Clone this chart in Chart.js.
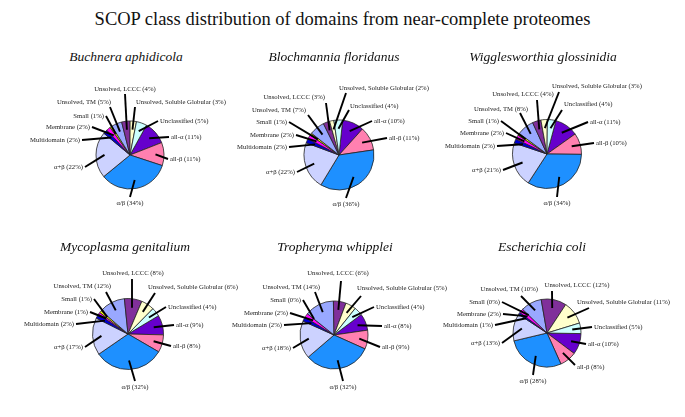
<!DOCTYPE html>
<html>
<head>
<meta charset="utf-8">
<script src="https://cdn.jsdelivr.net/npm/chart.js@4.4.1/dist/chart.umd.min.js"></script>
<style>
  body { margin: 0; background: #fff; }
  #wrap { position: relative; width: 685px; height: 417px; overflow: hidden; font-family: "Liberation Serif", "DejaVu Serif", serif; color: #111; }
  #title { position: absolute; left: 0; top: 9px; width: 685px; text-align: center; font-size: 18.5px; }
  .sp { position: absolute; width: 240px; text-align: center; font-style: italic; font-size: 13.5px; line-height: 16px; }
  canvas { position: absolute; }
</style>
</head>
<body>
<div id="wrap">
  <div id="title">SCOP class distribution of domains from near-complete proteomes</div>
</div>
<script>
// ----- Data -----
const classNames = ['all-α', 'all-β', 'α/β', 'α+β', 'Multidomain', 'Membrane', 'Small',
  'Unsolved, TM', 'Unsolved, LCCC', 'Unsolved, Soluble Globular', 'Unclassified'];
const speciesNames = ['Buchnera aphidicola', 'Blochmannia floridanus', 'Wigglesworthia glossinidia',
  'Mycoplasma genitalium', 'Tropheryma whipplei', 'Escherichia coli'];

// percentages, same order as classNames
const buchnera       = [11, 11, 34, 22, 2, 2, 1, 5, 4, 3, 5];
const blochmannia    = [10, 11, 36, 22, 2, 2, 1, 7, 3, 2, 4];
const wigglesworthia = [11, 10, 34, 21, 2, 2, 1, 8, 4, 3, 4];
const mycoplasma     = [9, 8, 32, 17, 2, 1, 1, 12, 8, 6, 4];
const tropheryma     = [8, 9, 32, 18, 2, 2, 0, 14, 6, 5, 4];
const ecoli          = [10, 8, 28, 13, 1, 2, 0, 10, 12, 11, 5];

// ----- Styles & layout -----
const sliceColors = ['#6600cc', '#ff80b0', '#1e90ff', '#ccd2ff', '#0000d0', '#ff00ff', '#ffff00',
  '#99a8ff', '#80309a', '#ffffcc', '#ccffff'];

// pie centre, radius, first-slice angle, species title position
const panels = [
  { data: buchnera,       cx: 130, cy: 155, r: 34,   rot: 29, tx: 126, ty: 49 },
  { data: blochmannia,    cx: 339, cy: 155, r: 35,   rot: 6,  tx: 334, ty: 49 },
  { data: wigglesworthia, cx: 547, cy: 154, r: 34.5, rot: 15, tx: 543, ty: 49 },
  { data: mycoplasma,     cx: 128, cy: 334, r: 35.5, rot: 59, tx: 125, ty: 239 },
  { data: tropheryma,     cx: 334, cy: 335, r: 34,   rot: 53, tx: 335, ty: 239 },
  { data: ecoli,          cx: 547, cy: 333, r: 34,   rot: 91, tx: 542, ty: 239 }
];

// label placement relative to pie centre: [textX, textY, align, lineEndX, lineEndY]
const labelLayouts = [
  [[41, -18, 'left'], [40, 4, 'left'], [0, 48, 'center'], [-47, 12, 'right'], [-50, -15, 'right'],
   [-40, -28, 'right'], [-26, -39, 'right'], [-19, -53, 'right', -20, -48], [-5, -66, 'center'],
   [6, -53, 'left', 5, -48], [30, -34, 'left']],
  [[35, -34, 'left'], [50, -17, 'left'], [7, 49, 'center'], [-44, 17, 'right'], [-52, -8, 'right'],
   [-45, -20, 'right'], [-52, -33, 'right'], [-33, -45, 'right', -31, -40], [-14, -58, 'right', -13, -52],
   [0, -67, 'left', 7, -62], [11, -49, 'left', 10, -45]],
  [[43, -32, 'left'], [49, -11, 'left'], [10, 49, 'center'], [-46, 16, 'right'], [-52, -8, 'right'],
   [-43, -21, 'right'], [-48, -33, 'right'], [-19, -45, 'right', -27, -41], [-24, -60, 'center', -10, -54],
   [5, -68, 'left', 12, -62], [17, -50, 'left', 15, -44]],
  [[48, -9, 'left'], [45, 12, 'left'], [7, 53, 'center'], [-45, 13, 'right'], [-54, -10, 'right'],
   [-40, -22, 'right'], [-36, -35, 'right'], [-17, -48, 'right', -22, -42], [5, -61, 'center', 4, -55],
   [20, -47, 'left', 27, -41], [40, -27, 'left']],
  [[50, -9, 'left'], [48, 12, 'left'], [9, 52, 'center'], [-43, 13, 'right'], [-52, -10, 'right'],
   [-46, -22, 'right'], [-33, -35, 'right'], [-14, -48, 'right', -19, -43], [4, -62, 'center', 7, -54],
   [23, -47, 'left', 27, -39], [42, -28, 'left']],
  [[41, 11, 'left'], [30, 34, 'left', 28, 32], [-14, 48, 'center'], [-47, 10, 'right'], [-54, -8, 'right'],
   [-46, -19, 'right'], [-47, -31, 'right'], [-9, -44, 'right', -26, -37], [30, -48, 'center', 5, -42],
   [30, -31, 'left', 42, -25], [47, -6, 'left']]
];

const CW = 290, CH = 200;

// leader lines + labels drawn from each arc's own geometry
const leaderLabels = {
  id: 'leaderLabels',
  afterDatasetsDraw(chart, args, opts) {
    const ctx = chart.ctx;
    const layout = opts.layout;
    const values = chart.data.datasets[0].data;
    const meta = chart.getDatasetMeta(0);
    ctx.save();
    ctx.font = '6.7px "Liberation Serif", serif';
    ctx.fillStyle = '#222';
    ctx.strokeStyle = '#000';
    ctx.lineWidth = 1.9;
    ctx.textBaseline = 'middle';
    meta.data.forEach((arc, i) => {
      const p = arc.getProps(['x', 'y', 'startAngle', 'endAngle', 'outerRadius'], true);
      const mid = (p.startAngle + p.endAngle) / 2;
      const [tx, ty, align, ex0, ey0] = layout[i];
      let ex = ex0, ey = ey0;
      if (ex === undefined) {
        if (align === 'left') { ex = tx - 2; ey = ty; }
        else if (align === 'right') { ex = tx + 2; ey = ty; }
        else { ex = tx; ey = ty > 0 ? ty - 6 : ty + 5; }
      }
      ctx.beginPath();
      ctx.moveTo(p.x + Math.cos(mid) * p.outerRadius * 0.75, p.y + Math.sin(mid) * p.outerRadius * 0.75);
      ctx.lineTo(p.x + ex, p.y + ey);
      ctx.stroke();
      ctx.textAlign = align;
      ctx.fillText(`${chart.data.labels[i]} (${values[i]}%)`, p.x + tx, p.y + ty);
    });
    ctx.restore();
  }
};

// ----- Build panels -----
const wrap = document.getElementById('wrap');
panels.forEach((pn, k) => {
  const title = document.createElement('div');
  title.className = 'sp';
  title.textContent = speciesNames[k];
  title.style.left = (pn.tx - 120) + 'px';
  title.style.top = pn.ty + 'px';
  wrap.appendChild(title);

  const cv = document.createElement('canvas');
  cv.width = CW; cv.height = CH;
  cv.style.left = (pn.cx - CW / 2) + 'px';
  cv.style.top = (pn.cy - CH / 2) + 'px';
  wrap.appendChild(cv);

  new Chart(cv.getContext('2d'), {
    type: 'pie',
    data: {
      labels: classNames,
      datasets: [{
        data: pn.data,
        backgroundColor: sliceColors,
        borderColor: '#222',
        borderWidth: 0.8,
        radius: pn.r
      }]
    },
    options: {
      responsive: false,
      animation: false,
      rotation: pn.rot,
      layout: { padding: 0 },
      plugins: {
        legend: { display: false },
        tooltip: { enabled: false },
        leaderLabels: { layout: labelLayouts[k] }
      }
    },
    plugins: [leaderLabels]
  });
});
</script>
</body>
</html>
